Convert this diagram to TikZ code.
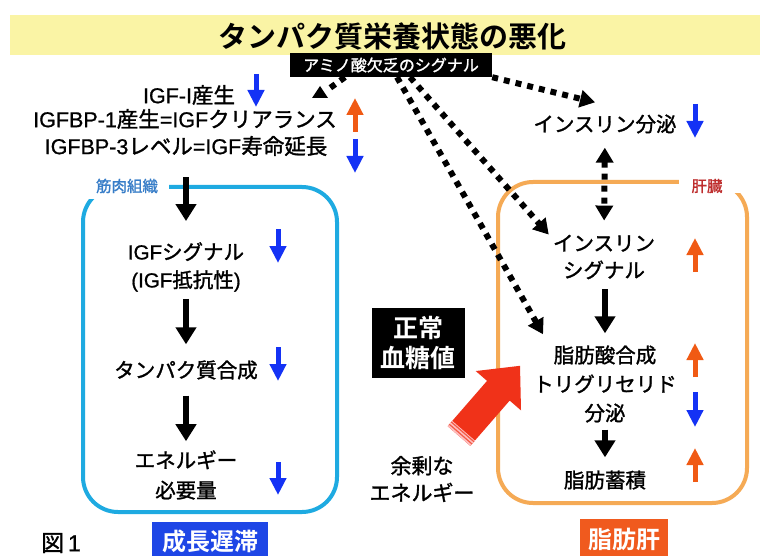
\documentclass[tikz,border=0pt]{standalone}
\usepackage{fontspec}
\setmainfont{Noto Sans CJK JP}[BoldFont={Noto Sans CJK JP Bold}]
\newfontfamily\med{Noto Sans CJK JP}[FakeBold=1.4]
\newfontfamily\lat{Liberation Sans}[FakeBold=0.8]
\usetikzlibrary{arrows.meta}
\definecolor{bandyel}{RGB}{250,244,165}
\definecolor{musclec}{RGB}{30,170,225}
\definecolor{liverc}{RGB}{245,170,85}
\definecolor{downb}{RGB}{20,50,245}
\definecolor{upo}{RGB}{240,90,20}
\definecolor{mlabel}{RGB}{55,125,200}
\definecolor{llabel}{RGB}{190,45,45}
\definecolor{growthbg}{RGB}{30,70,230}
\definecolor{fattybg}{RGB}{240,90,30}
\definecolor{bigred}{RGB}{240,50,25}
\begin{document}
\begin{tikzpicture}[x=1pt,y=-1pt,
  txt/.style={inner sep=0pt, align=center, font=\med\fontsize{20.5}{28}\selectfont},
  ltxt/.style={inner sep=0pt, align=center, font=\med\fontsize{21.5}{28}\selectfont},
  blk/.style={line width=6pt, -{Triangle[length=17pt,width=20pt]}},
  dotl/.style={line width=6pt, dash pattern=on 6pt off 6pt},
  dotar/.style={dotl, -{Triangle[length=15pt,width=17pt]}},
  dotdbl/.style={dotl, {Triangle[length=15pt,width=17pt]}-{Triangle[length=15pt,width=17pt]}},
  ind/.style={line width=5pt, -{Triangle[length=17pt,width=16pt]}},
  boxlabel/.style={inner sep=0pt, font=\med\fontsize{15.5}{15.5}\selectfont},
  tag/.style={inner sep=0pt, text=white, font=\bfseries\fontsize{24}{24}\selectfont}
  ]
\useasboundingbox (0,0) rectangle (760,556);
\fill[white] (0,0) rectangle (760,556);

% title band
\fill[bandyel] (10,15) rectangle (760,55);
\node[inner sep=0pt, font=\bfseries\fontsize{29}{29}\selectfont] (title) at (392,36) {タンパク質栄養状態の悪化};

% boxes
\draw[musclec, line width=4pt, rounded corners=35pt] (83,187) rectangle (337,512);
\fill[white] (86,172) rectangle (169,199);
\node[boxlabel, text=mlabel] (mlab) at (127,186) {筋肉組織};
\draw[liverc, line width=4pt, rounded corners=35pt] (498,182) rectangle (747,503);
\fill[white] (679,170) rectangle (750,193);
\node[boxlabel, text=llabel] (llab) at (707,186) {肝臓};

% signal box
\node[fill=black, text=white, inner sep=0pt, minimum width=202pt, minimum height=24pt,
      font=\med\fontsize{16}{16}\selectfont] (sig) at (391,65) {アミノ酸欠乏のシグナル};

% left texts
\node[ltxt] (igf1) at (189,95) {{\lat IGF-I}産生};
\node[ltxt] (igfbp1) at (185,119) {{\lat IGFBP-1}産生{\lat =IGF}クリアランス};
\node[ltxt] (igfbp3) at (186,146) {{\lat IGFBP-3}レベル{\lat =IGF}寿命延長};

% muscle nodes
\node[txt] (igfsig) at (186,267) {{\lat IGF}シグナル\\{\lat (IGF}抵抗性{\lat )}};
\node[txt] (prot) at (186,370) {タンパク質合成};
\node[txt, font=\med\fontsize{20.5}{30}\selectfont] (energy) at (186,475) {エネルギー\\必要量};

% liver nodes
\node[txt] (ins) at (605,124) {インスリン分泌};
\node[txt, font=\med\fontsize{20.5}{27}\selectfont] (insig) at (604,257) {インスリン\\シグナル};
\node[txt, font=\med\fontsize{20.5}{29}\selectfont] (fat) at (605,384) {脂肪酸合成\\トリグリセリド\\分泌};
\node[txt] (accum) at (605,480) {脂肪蓄積};

% middle
\node[fill=black, text=white, inner sep=0pt, minimum width=93pt, minimum height=70pt, align=center,
      font=\bfseries\fontsize{25}{30}\selectfont] (normal) at (418,343) {正常\\血糖値};
\node[txt, font=\med\fontsize{21}{27}\selectfont] (excess) at (422,479) {余剰な\\エネルギー};

% bottom tags
\node[tag, fill=growthbg, minimum width=116pt, minimum height=38pt] (growth) at (210,541) {成長遅滞};
\node[tag, fill=fattybg, minimum width=88pt, minimum height=40pt] (fliver) at (624,539) {脂肪肝};
\node[inner sep=0pt, font=\med\fontsize{23}{23}\selectfont] (fig) at (61,543) {図{\lat\,1}};

% black arrows muscle
\draw[blk, shorten <=21pt, shorten >=21pt] (igfbp3.south) -- (igfsig.north);
\draw[blk, shorten <=7pt, shorten >=16pt] (igfsig.south) -- (prot.north);
\draw[blk, shorten <=16pt, shorten >=9pt] (prot.south) -- (energy.north);
% black arrows liver
\draw[blk, shorten <=10pt, shorten >=12pt] (insig.south -| fat) -- (fat.north);
\draw[blk, shorten <=7pt, shorten >=13pt] (fat.south) -- (accum.north);

% dotted arrows
\draw[dotar] (sig.south east) -- ([xshift=-10pt,yshift=12pt]ins.north);
\draw[dotar] ([xshift=19pt]sig.south) -- ([xshift=-4pt]insig.north west);
\draw[dotar] ([xshift=6pt]sig.south) -- ([xshift=10pt,yshift=11pt]fat.north west);
\draw[dotdbl, shorten <=14pt, shorten >=14pt] (ins.south) -- (insig.north);
\coordinate (lt) at (330,88);
\draw[dotl] ([xshift=-46pt]sig.south) -- (lt);
\fill (312,98) -- (328,98) -- (320,86) -- cycle;

% indicator arrows
\draw[ind, downb] (256,74) -- (256,107);
\draw[ind, upo] (355,132) -- (355,98);
\draw[ind, downb] (355,139) -- (355,173);
\draw[ind, downb] (695,104) -- (695,138);
\draw[ind, downb] (278,229) -- (278,263);
\draw[ind, downb] (278,347) -- (278,381);
\draw[ind, downb] (278,462) -- (278,495);
\draw[ind, upo] (695,272) -- (695,238);
\draw[ind, upo] (695,377) -- (695,343);
\draw[ind, downb] (695,392) -- (695,427);
\draw[ind, upo] (695,482) -- (695,448);

% big red arrow
\begin{scope}[shift={(459,436)}, rotate=49]
  \fill[bigred] (0,-15) -- (60,-15) -- (60,-30) -- (93,0) -- (60,30) -- (60,15) -- (0,15) -- cycle;
  \fill[red!25] (0,-15) rectangle (7,15);
  \draw[bigred!80, line width=1.2pt] (2.5,-15) -- (2.5,15) (5.5,-15) -- (5.5,15);
\end{scope}
\end{tikzpicture}
\end{document}
